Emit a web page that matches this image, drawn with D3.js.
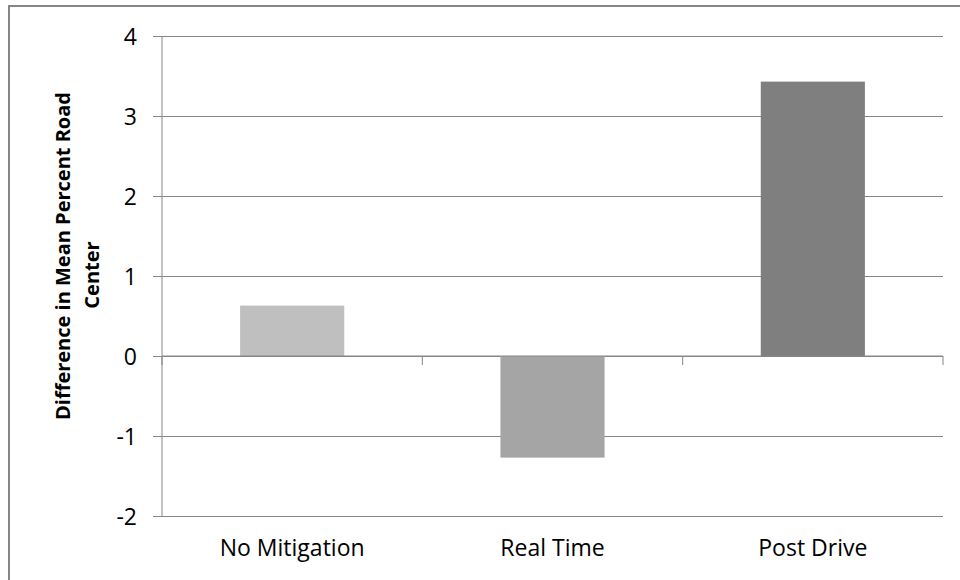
<!DOCTYPE html>
<html lang="en">
<head>
<meta charset="UTF-8">
<title>Difference in Mean Percent Road Center</title>
<script src="https://cdn.jsdelivr.net/npm/d3@7"></script>
<style>
  body { margin: 0; background: #fff; }
  svg { display: block; font-family: "Open Sans", sans-serif; }
</style>
</head>
<body>
<svg id="chart" width="960" height="580"></svg>
<script>
// values
var categories = ["No Mitigation", "Real Time", "Post Drive"];
var values = [0.63, -1.27, 3.43];
var barColors = ["#bfbfbf", "#a5a5a5", "#7f7f7f"];
var yTicks = [-2, -1, 0, 1, 2, 3, 4];
var titleLines = ["Difference in Mean Percent Road", "Center"];

var svg = d3.select("#chart");
var margin = {left: 162, right: 17, top: 36, bottom: 64};
var width = 960 - margin.left - margin.right,
    height = 580 - margin.top - margin.bottom;

// outer chart border (right/bottom fall outside the picture)
svg.append("rect")
    .attr("x", 9).attr("y", 6)
    .attr("width", 980).attr("height", 600)
    .attr("fill", "none")
    .attr("stroke", "#868686")
    .attr("stroke-width", 2);

var g = svg.append("g")
    .attr("transform", "translate(" + margin.left + "," + margin.top + ")");

var x = d3.scaleBand().domain(categories).range([0, width]).paddingInner(0.6).paddingOuter(0.3);
var y = d3.scaleLinear().domain([-2, 4]).range([height, 0]);

// gridlines + y axis
var yAxis = g.append("g")
    .call(d3.axisLeft(y)
        .tickValues(yTicks)
        .tickFormat(function(d) { return String(d); })
        .tickSize(-width).tickSizeOuter(0).tickPadding(25))
    .attr("font-family", "Open Sans, sans-serif");
yAxis.select(".domain").remove();
yAxis.selectAll(".tick line")
    .attr("stroke", "#868686")
    .attr("x1", -9);
yAxis.selectAll(".tick text")
    .attr("fill", "#000")
    .style("font-size", "23px")
    .attr("dy", "0.35em");

g.append("line")
    .attr("x1", 0).attr("x2", 0)
    .attr("y1", 0).attr("y2", height)
    .attr("stroke", "#868686");

// bars
g.selectAll("rect.bar")
    .data(values)
    .enter().append("rect")
    .attr("class", "bar")
    .attr("x", function(d, i) { return x(categories[i]); })
    .attr("width", x.bandwidth())
    .attr("y", function(d) { return y(Math.max(0, d)); })
    .attr("height", function(d) { return Math.abs(y(d) - y(0)); })
    .attr("fill", function(d, i) { return barColors[i]; });

// category axis along zero line, with boundary ticks
var step = width / categories.length;
g.append("line")
    .attr("x1", 0).attr("x2", width)
    .attr("y1", y(0)).attr("y2", y(0))
    .attr("stroke", "#868686");
g.selectAll("line.ctick")
    .data(d3.range(categories.length + 1))
    .enter().append("line")
    .attr("class", "ctick")
    .attr("x1", function(d) { return d * step; })
    .attr("x2", function(d) { return d * step; })
    .attr("y1", y(0)).attr("y2", y(0) + 9)
    .attr("stroke", "#868686");

g.selectAll("text.cat")
    .data(categories)
    .enter().append("text")
    .attr("class", "cat")
    .attr("x", function(d) { return x(d) + x.bandwidth() / 2; })
    .attr("y", height + 40)
    .attr("text-anchor", "middle")
    .style("font-size", "23px")
    .text(function(d) { return d; });

// y axis title, two lines
var title = svg.append("text")
    .attr("transform", "rotate(-90)")
    .attr("text-anchor", "middle")
    .style("font-size", "20px")
    .style("font-weight", "bold");
title.append("tspan").attr("x", -256).attr("y", 70).text(titleLines[0]);
title.append("tspan").attr("x", -275).attr("y", 99).text(titleLines[1]);
</script>
</body>
</html>
